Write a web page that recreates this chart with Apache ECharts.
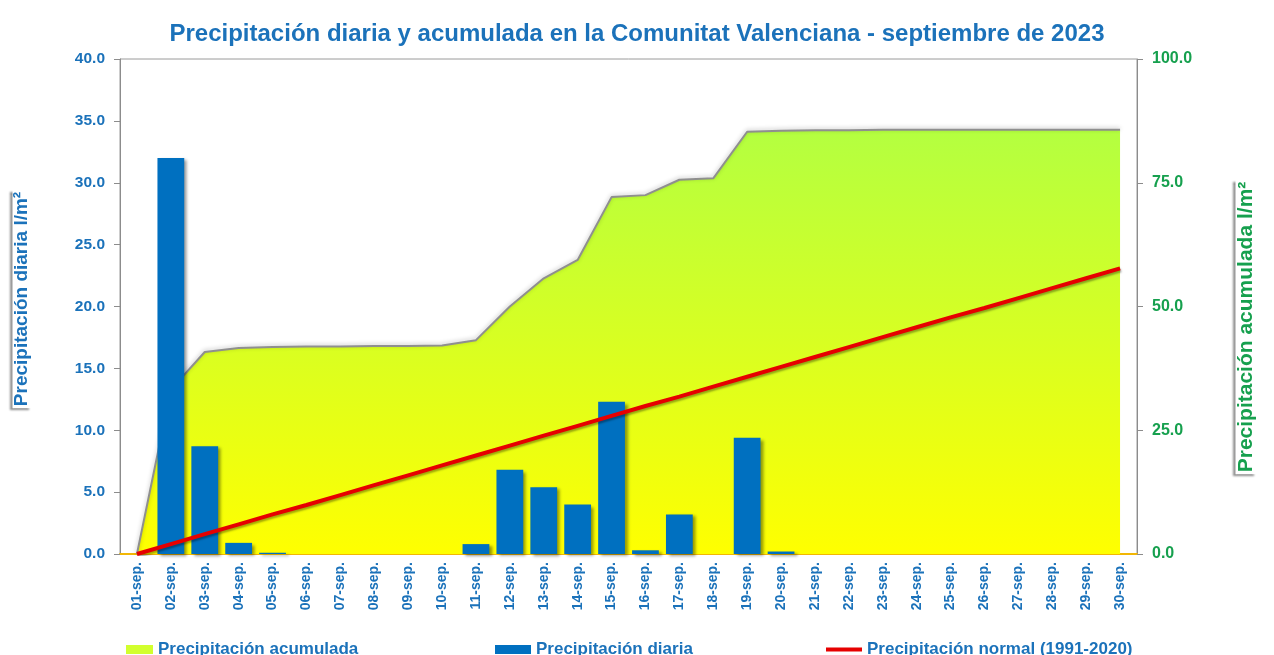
<!DOCTYPE html>
<html>
<head>
<meta charset="utf-8">
<script src="https://cdn.jsdelivr.net/npm/echarts@6/dist/echarts.min.js"></script>
<style>
html,body{margin:0;padding:0;background:#fff;}
#chart{width:1274px;height:655px;}
</style>
</head>
<body>
<div id="chart"></div>
<script>
const days = ['01-sep.','02-sep.','03-sep.','04-sep.','05-sep.','06-sep.','07-sep.','08-sep.','09-sep.','10-sep.',
  '11-sep.','12-sep.','13-sep.','14-sep.','15-sep.','16-sep.','17-sep.','18-sep.','19-sep.','20-sep.',
  '21-sep.','22-sep.','23-sep.','24-sep.','25-sep.','26-sep.','27-sep.','28-sep.','29-sep.','30-sep.'];
const dailyPrecip = [0, 32.0, 8.7, 0.9, 0.1, 0, 0, 0, 0, 0,
  0.8, 6.8, 5.4, 4.0, 12.3, 0.3, 3.2, 0, 9.4, 0.2,
  0, 0, 0, 0, 0, 0, 0, 0, 0, 0];
const accumPrecip = [0, 33.2, 40.8, 41.6, 41.8, 41.9, 41.9, 42.0, 42.0, 42.1,
  43.2, 50.0, 55.7, 59.4, 72.1, 72.5, 75.6, 75.9, 85.3, 85.5,
  85.6, 85.6, 85.7, 85.7, 85.7, 85.7, 85.7, 85.7, 85.7, 85.7];
const normalPrecip = [0.0, 2.0, 4.0, 6.0, 8.0, 9.9, 11.9, 13.9, 15.9, 17.9,
  19.9, 21.9, 23.9, 25.9, 27.9, 29.9, 31.8, 33.8, 35.8, 37.8,
  39.8, 41.8, 43.8, 45.8, 47.8, 49.7, 51.7, 53.7, 55.7, 57.7];
const leftTicks = {min: 0, max: 40, interval: 5};
const rightTicks = {min: 0, max: 100, interval: 25};

const FONT = '"Liberation Sans", Arial, sans-serif';
const BLUE = '#1B72BA';
const GREEN = '#16A04E';

const chart = echarts.init(document.getElementById('chart'), null, {renderer: 'canvas'});
const legendText = {fontFamily: FONT, fontSize: 17, fontWeight: 'bold', color: BLUE};
const nameBox = {backgroundColor: '#ffffff', padding: [0, 2, 0, 2],
  shadowColor: 'rgba(0,0,0,0.45)', shadowBlur: 2, shadowOffsetX: -3, shadowOffsetY: 2};
chart.setOption({
  backgroundColor: '#ffffff',
  animation: false,
  title: {
    text: 'Precipitación diaria y acumulada en la Comunitat Valenciana - septiembre de 2023',
    left: 'center', top: 17,
    textStyle: {fontFamily: FONT, fontSize: 24, fontWeight: 'bold', color: BLUE}
  },
  graphic: [
    {type: 'text', x: 22, y: 299, rotation: Math.PI / 2, z: 10,
     style: Object.assign({text: 'Precipitación diaria l/m²', font: 'bold 19px ' + FONT, fill: BLUE,
       align: 'center', verticalAlign: 'middle'}, nameBox)},
    {type: 'text', x: 1246, y: 327, rotation: Math.PI / 2, z: 10,
     style: Object.assign({text: 'Precipitación acumulada l/m²', font: 'bold 21px ' + FONT, fill: GREEN,
       align: 'center', verticalAlign: 'middle'}, nameBox)}
  ],
  legend: [
    {left: 121, top: 636, icon: 'rect', itemWidth: 27, itemHeight: 9,
     data: [{name: 'Precipitación acumulada', itemStyle: {color: '#D2FF2E'}}], textStyle: legendText, selectedMode: false},
    {left: 490, top: 636, icon: 'rect', itemWidth: 36, itemHeight: 9,
     data: [{name: 'Precipitación diaria', itemStyle: {color: '#0070C0'}}], textStyle: legendText, selectedMode: false},
    {left: 821, top: 636, icon: 'rect', itemWidth: 36, itemHeight: 4,
     data: [{name: 'Precipitación normal (1991-2020)', itemStyle: {color: '#E60000'}}], textStyle: legendText, selectedMode: false}
  ],
  grid: {left: 120, right: 137, top: 59, bottom: 101, show: true, borderColor: '#9a9a9a', borderWidth: 1, backgroundColor: 'transparent'},
  xAxis: {
    type: 'category', data: days, boundaryGap: true,
    axisLine: {show: true, lineStyle: {color: '#F2B705', width: 2}},
    axisTick: {show: false},
    axisLabel: {interval: 0, rotate: 90, margin: 8, fontFamily: FONT, fontSize: 14, fontWeight: 'bold', color: BLUE}
  },
  yAxis: [
    {type: 'value', position: 'left', min: leftTicks.min, max: leftTicks.max, interval: leftTicks.interval,
     axisLine: {show: true, lineStyle: {color: '#8c8c8c', width: 1}},
     axisTick: {show: true, length: 6, lineStyle: {color: '#8c8c8c'}},
     splitLine: {show: false},
     axisLabel: {margin: 15, fontFamily: FONT, fontSize: 15.5, fontWeight: 'bold', color: BLUE, formatter: v => v.toFixed(1)}
    },
    {type: 'value', position: 'right', min: rightTicks.min, max: rightTicks.max, interval: rightTicks.interval,
     axisLine: {show: true, lineStyle: {color: '#8c8c8c', width: 1}},
     axisTick: {show: true, length: 6, lineStyle: {color: '#8c8c8c'}},
     splitLine: {show: false},
     axisLabel: {margin: 15, fontFamily: FONT, fontSize: 16, fontWeight: 'bold', color: GREEN, formatter: v => v.toFixed(1)}
    }
  ],
  series: [
    {name: 'Precipitación acumulada', type: 'line', yAxisIndex: 1, data: accumPrecip, symbol: 'none', z: 1,
     lineStyle: {color: '#8f8f8f', width: 2, shadowColor: 'rgba(0,0,0,0.25)', shadowBlur: 4, shadowOffsetY: -1},
     areaStyle: {opacity: 1, color: new echarts.graphic.LinearGradient(0, 0, 0, 1, [
       {offset: 0, color: '#B4FF40'}, {offset: 0.5, color: '#D8FF22'}, {offset: 1, color: '#FFFF00'}])},
     itemStyle: {color: '#D2FF2E'}
    },
    {name: 'Precipitación diaria', type: 'bar', yAxisIndex: 0, data: dailyPrecip, barWidth: '79%', z: 3,
     itemStyle: {color: '#0070C0', shadowColor: 'rgba(0,0,0,0.4)', shadowBlur: 3, shadowOffsetX: 3, shadowOffsetY: 2}
    },
    {name: 'Precipitación normal (1991-2020)', type: 'line', yAxisIndex: 1, data: normalPrecip, symbol: 'none', z: 4,
     lineStyle: {color: '#E60000', width: 4, shadowColor: 'rgba(0,0,0,0.35)', shadowBlur: 2, shadowOffsetX: 1, shadowOffsetY: 2},
     itemStyle: {color: '#E60000'}
    }
  ]
});
</script>
</body>
</html>
